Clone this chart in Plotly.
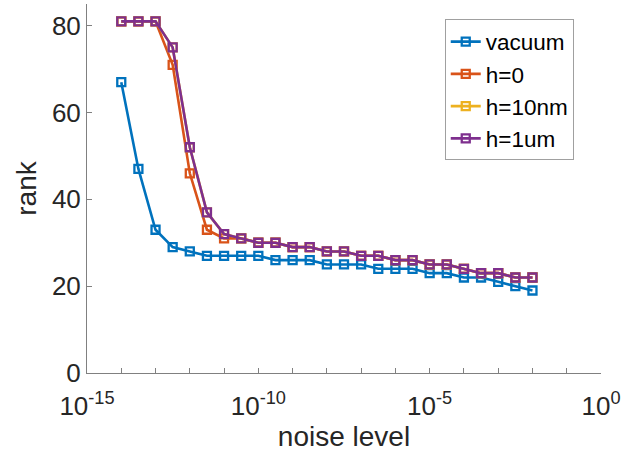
import numpy as np
import plotly.graph_objects as go

# noise levels: 10^-14 ... 10^-2 in half-decade steps
log_noise = [-14, -13.5, -13, -12.5, -12, -11.5, -11, -10.5, -10, -9.5, -9, -8.5, -8,
             -7.5, -7, -6.5, -6, -5.5, -5, -4.5, -4, -3.5, -3, -2.5, -2]
noise = [10 ** v for v in log_noise]

vacuum = [67, 47, 33, 29, 28, 27, 27, 27, 27, 26, 26, 26, 25, 25, 25, 24, 24, 24, 23, 23, 22, 22, 21, 20, 19]
h0 = [81, 81, 81, 71, 46, 33, 31, 31, 30, 30, 29, 29, 28, 28, 27, 27, 26, 26, 25, 25, 24, 23, 23, 22, 22]
h10nm = [81, 81, 81, 75, 52, 37, 32, 31, 30, 30, 29, 29, 28, 28, 27, 27, 26, 26, 25, 25, 24, 23, 23, 22, 22]
h1um = [81, 81, 81, 75, 52, 37, 32, 31, 30, 30, 29, 29, 28, 28, 27, 27, 26, 26, 25, 25, 24, 23, 23, 22, 22]

series = [("vacuum", vacuum, "#0072BD"),
          ("h=0", h0, "#D95319"),
          ("h=10nm", h10nm, "#EDB120"),
          ("h=1um", h1um, "#7E2F8E")]

x_tick_exps = list(range(-15, 1))
x_tickvals = [10 ** e for e in x_tick_exps]
x_ticktext = [f"10<sup>{e}</sup>" if e % 5 == 0 else "" for e in x_tick_exps]

y_tickvals = [0, 20, 40, 60, 80]

fig = go.Figure()
for name, vals, col in series:
    fig.add_trace(go.Scatter(
        x=noise, y=vals, name=name, mode="lines+markers",
        line=dict(color=col, width=2.6),
        marker=dict(symbol="square-open", size=8, color=col, line=dict(width=2.3, color=col)),
    ))

font_family = "Liberation Sans, Arial, sans-serif"
fig.update_layout(
    width=623, height=465,
    margin=dict(l=87, r=22, t=4, b=92, autoexpand=False),
    paper_bgcolor="white", plot_bgcolor="white",
    font=dict(family=font_family, color="#262626"),
    showlegend=True,
    legend=dict(
        x=0.696, y=0.958, xanchor="left", yanchor="top",
        bgcolor="white", bordercolor="#a0a0a0", borderwidth=1,
        font=dict(size=22.5, family=font_family, color="#000000"),
        itemwidth=30, tracegroupgap=0,
    ),
    xaxis=dict(
        type="log", range=[-15, 0], automargin=False,
        tickvals=x_tickvals, ticktext=x_ticktext,
        ticks="inside", ticklen=5, tickcolor="#808080",
        showline=True, linecolor="#808080", linewidth=1,
        showgrid=False, zeroline=False,
        tickfont=dict(size=26, color="#262626"),
        ticklabelstandoff=10,
        title=dict(text="noise level", font=dict(size=28, color="#262626"), standoff=2),
    ),
    yaxis=dict(
        range=[0, 85], automargin=False,
        tickvals=y_tickvals,
        ticks="inside", ticklen=5, tickcolor="#808080",
        showline=True, linecolor="#808080", linewidth=1,
        showgrid=False, zeroline=False,
        tickfont=dict(size=26, color="#262626"),
        title=dict(text="rank", font=dict(size=28, color="#262626"), standoff=7),
    ),
)

fig.write_html("out.html", config={"displayModeBar": False},
               post_script="document.body.style.margin='0px';document.body.style.overflow='hidden';")
